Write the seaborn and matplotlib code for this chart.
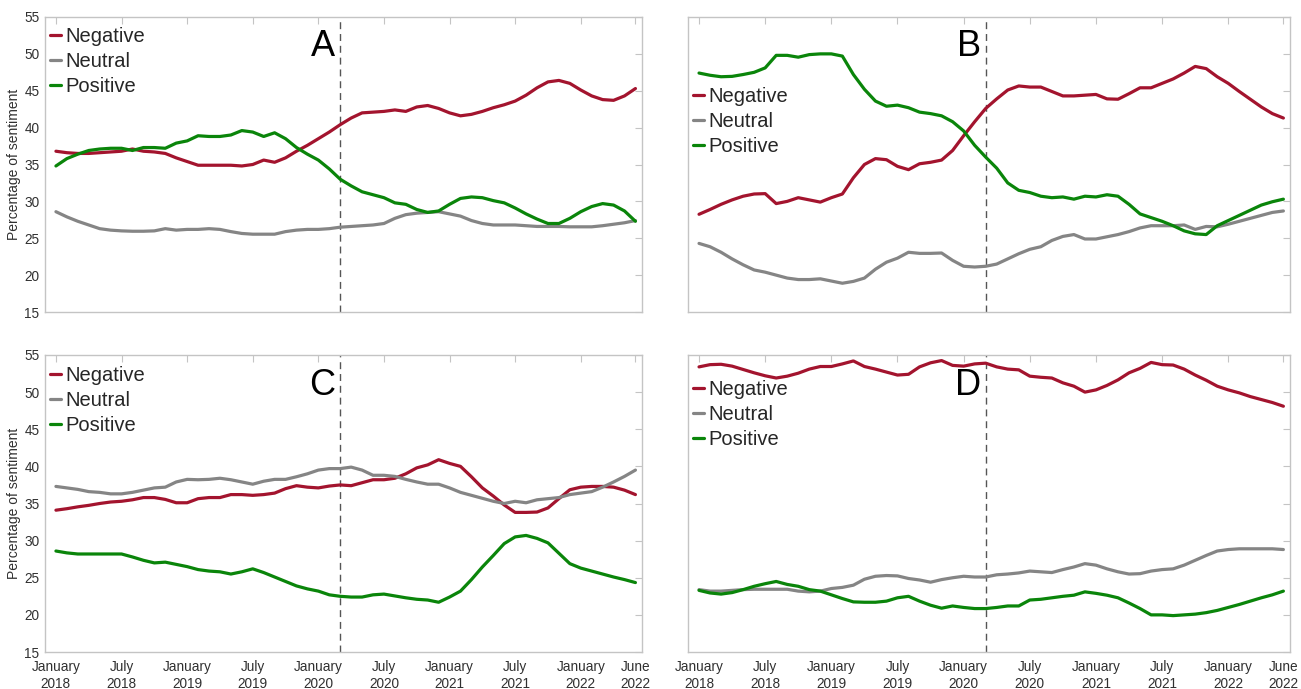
import numpy as np
import pandas as pd
import matplotlib
matplotlib.use("Agg")
import matplotlib.pyplot as plt
import seaborn as sns

# ---------------- data ----------------
months = pd.date_range("2018-01-01", "2022-06-01", freq="MS")
event_month = pd.Timestamp("2020-03-01")
sentiments = ["Negative", "Neutral", "Positive"]
panel_letters = ["A", "B", "C", "D"]
tick_labels = ["January\n2018", "July\n2018", "January\n2019", "July\n2019", "January\n2020",
               "July\n2020", "January\n2021", "July\n2021", "January\n2022", "June\n2022"]
tick_months = ["2018-01", "2018-07", "2019-01", "2019-07", "2020-01",
               "2020-07", "2021-01", "2021-07", "2022-01", "2022-06"]

a_negative = [36.8, 36.6, 36.5, 36.5, 36.6, 36.7, 36.8, 37.1, 36.8, 36.7,
              36.5, 35.9, 35.4, 34.9, 34.9, 34.9, 34.9, 34.8, 35.0, 35.6,
              35.3, 35.9, 36.8, 37.6, 38.5, 39.4, 40.4, 41.3, 42.0, 42.1,
              42.2, 42.4, 42.2, 42.8, 43.0, 42.6, 42.0, 41.6, 41.8, 42.2,
              42.7, 43.1, 43.6, 44.4, 45.4, 46.2, 46.4, 46.0, 45.1, 44.3,
              43.8, 43.7, 44.3, 45.3]
a_neutral = [28.6, 27.9, 27.3, 26.8, 26.3, 26.1, 26.0, 25.95, 25.95, 26.0,
             26.3, 26.1, 26.2, 26.2, 26.3, 26.2, 25.9, 25.65, 25.55, 25.55,
             25.55, 25.9, 26.1, 26.2, 26.2, 26.3, 26.5, 26.6, 26.7, 26.8,
             27.0, 27.7, 28.2, 28.4, 28.5, 28.6, 28.3, 28.0, 27.4, 27.0,
             26.8, 26.8, 26.8, 26.7, 26.6, 26.6, 26.6, 26.55, 26.55, 26.55,
             26.7, 26.9, 27.1, 27.4]
a_positive = [34.8, 35.8, 36.4, 36.9, 37.1, 37.2, 37.2, 36.9, 37.3, 37.3,
              37.2, 37.9, 38.2, 38.9, 38.8, 38.8, 39.0, 39.6, 39.4, 38.8,
              39.3, 38.5, 37.3, 36.4, 35.6, 34.4, 33.0, 32.1, 31.3, 30.9,
              30.5, 29.8, 29.6, 28.9, 28.5, 28.7, 29.6, 30.4, 30.6, 30.5,
              30.1, 29.8, 29.1, 28.3, 27.6, 27.0, 27.0, 27.7, 28.6, 29.3,
              29.7, 29.5, 28.7, 27.3]

b_negative = [28.25, 28.9, 29.6, 30.2, 30.7, 31.0, 31.05, 29.7, 30.0, 30.5,
              30.2, 29.9, 30.5, 31.0, 33.2, 35.0, 35.8, 35.65, 34.75, 34.3,
              35.1, 35.3, 35.6, 36.9, 38.9, 40.8, 42.6, 43.9, 45.1, 45.65,
              45.5, 45.5, 44.9, 44.3, 44.3, 44.4, 44.5, 43.9, 43.85, 44.6,
              45.4, 45.4, 46.0, 46.6, 47.4, 48.3, 48.0, 46.9, 46.0, 44.9,
              43.85, 42.8, 41.9, 41.3]
b_neutral = [24.3, 23.85, 23.1, 22.2, 21.4, 20.7, 20.4, 20.0, 19.6, 19.4,
             19.4, 19.5, 19.2, 18.9, 19.15, 19.6, 20.8, 21.75, 22.3, 23.1,
             22.95, 22.95, 23.0, 22.0, 21.2, 21.1, 21.2, 21.5, 22.2, 22.9,
             23.5, 23.85, 24.7, 25.25, 25.5, 24.9, 24.9, 25.2, 25.5, 25.9,
             26.4, 26.7, 26.7, 26.7, 26.8, 26.2, 26.6, 26.55, 26.9, 27.3,
             27.7, 28.1, 28.5, 28.7]
b_positive = [47.4, 47.1, 46.9, 46.95, 47.2, 47.5, 48.1, 49.8, 49.8, 49.55,
              49.9, 50.0, 50.0, 49.7, 47.2, 45.2, 43.6, 42.9, 43.05, 42.7,
              42.1, 41.9, 41.6, 40.8, 39.55, 37.6, 36.0, 34.5, 32.5, 31.5,
              31.2, 30.7, 30.5, 30.6, 30.3, 30.7, 30.6, 30.9, 30.7, 29.6,
              28.3, 27.8, 27.3, 26.7, 26.0, 25.6, 25.5, 26.7, 27.4, 28.1,
              28.8, 29.5, 29.95, 30.3]

c_negative = [34.1, 34.3, 34.55, 34.75, 35.0, 35.2, 35.3, 35.5, 35.8, 35.8,
              35.55, 35.1, 35.1, 35.65, 35.8, 35.8, 36.2, 36.2, 36.1, 36.2,
              36.4, 37.0, 37.4, 37.2, 37.1, 37.35, 37.5, 37.4, 37.8, 38.2,
              38.2, 38.4, 39.0, 39.8, 40.2, 40.9, 40.4, 40.0, 38.6, 37.1,
              36.0, 34.8, 33.8, 33.8, 33.85, 34.4, 35.65, 36.85, 37.2, 37.3,
              37.3, 37.2, 36.8, 36.2]
c_neutral = [37.3, 37.1, 36.9, 36.6, 36.5, 36.3, 36.3, 36.5, 36.8, 37.1,
             37.2, 37.9, 38.25, 38.2, 38.25, 38.4, 38.2, 37.9, 37.6, 38.0,
             38.25, 38.25, 38.6, 39.0, 39.5, 39.7, 39.7, 39.9, 39.5, 38.8,
             38.8, 38.65, 38.25, 37.9, 37.6, 37.6, 37.1, 36.5, 36.1, 35.7,
             35.3, 35.0, 35.3, 35.1, 35.5, 35.65, 35.8, 36.2, 36.4, 36.6,
             37.2, 37.9, 38.65, 39.5]
c_positive = [28.6, 28.35, 28.2, 28.2, 28.2, 28.2, 28.2, 27.8, 27.35, 27.0,
              27.1, 26.8, 26.5, 26.1, 25.9, 25.8, 25.5, 25.8, 26.2, 25.7,
              25.1, 24.5, 23.9, 23.5, 23.2, 22.7, 22.5, 22.4, 22.4, 22.7,
              22.8, 22.55, 22.3, 22.1, 22.0, 21.7, 22.4, 23.2, 24.75, 26.45,
              28.0, 29.6, 30.5, 30.7, 30.3, 29.7, 28.3, 26.9, 26.3, 25.9,
              25.5, 25.1, 24.75, 24.35]

d_negative = [53.4, 53.7, 53.75, 53.5, 53.05, 52.6, 52.2, 51.9, 52.15, 52.55,
              53.1, 53.45, 53.45, 53.8, 54.2, 53.45, 53.1, 52.7, 52.3, 52.4,
              53.4, 53.95, 54.25, 53.6, 53.5, 53.8, 53.9, 53.4, 53.1, 53.0,
              52.15, 52.0, 51.9, 51.25, 50.8, 50.0, 50.3, 50.9, 51.65, 52.6,
              53.2, 54.0, 53.7, 53.65, 53.1, 52.3, 51.6, 50.8, 50.3, 49.9,
              49.4, 49.0, 48.6, 48.1]
d_neutral = [23.4, 23.2, 23.2, 23.3, 23.4, 23.45, 23.45, 23.45, 23.45, 23.2,
             23.1, 23.2, 23.55, 23.7, 24.0, 24.8, 25.2, 25.3, 25.25, 24.9,
             24.7, 24.4, 24.75, 25.0, 25.2, 25.1, 25.1, 25.4, 25.5, 25.65,
             25.9, 25.8, 25.7, 26.1, 26.45, 26.9, 26.7, 26.2, 25.8, 25.5,
             25.55, 25.9, 26.1, 26.2, 26.7, 27.35, 28.0, 28.6, 28.8, 28.9,
             28.9, 28.9, 28.9, 28.8]
d_positive = [23.3, 22.95, 22.8, 23.0, 23.4, 23.85, 24.2, 24.5, 24.1, 23.85,
              23.4, 23.2, 22.7, 22.2, 21.75, 21.7, 21.7, 21.85, 22.3, 22.5,
              21.85, 21.3, 20.9, 21.2, 21.0, 20.85, 20.85, 21.0, 21.2, 21.2,
              22.0, 22.1, 22.3, 22.5, 22.65, 23.1, 22.9, 22.65, 22.3, 21.6,
              20.85, 20.0, 20.0, 19.9, 20.0, 20.1, 20.3, 20.6, 21.0, 21.4,
              21.85, 22.3, 22.7, 23.2]

panels = {
    "A": (a_negative, a_neutral, a_positive),
    "B": (b_negative, b_neutral, b_positive),
    "C": (c_negative, c_neutral, c_positive),
    "D": (d_negative, d_neutral, d_positive),
}

# ---------------- style ----------------
sns.set_style("white")
FONT = ["Liberation Sans", "DejaVu Sans"]
plt.rcParams["font.family"] = FONT
palette = {"Negative": "#A3142E", "Neutral": "#858585", "Positive": "#0A850A"}
frame_color = "#c4c4c4"
text_color = "#303030"

W, H = 1301, 689
fig = plt.figure(figsize=(W / 100, H / 100), dpi=100)

# axes rectangles in pixels: left, top, right, bottom
rects = {
    "A": (45, 17, 642, 312),
    "B": (688, 17, 1290, 312),
    "C": (45, 355, 642, 652),
    "D": (688, 355, 1290, 652),
}
# legend top offsets (pixels from axes top)
legend_top = {"A": 10, "B": 70, "C": 11, "D": 25}

x_index = np.arange(len(months))
month_pos = {m.strftime("%Y-%m"): i for i, m in enumerate(months)}
event_x = month_pos[event_month.strftime("%Y-%m")]
tick_pos = [month_pos[t] for t in tick_months]

for letter in panel_letters:
    l, t, r, b = rects[letter]
    ax = fig.add_axes([l / W, 1 - b / H, (r - l) / W, (b - t) / H])
    neg, neu, pos = panels[letter]
    df = pd.DataFrame({
        "month": np.concatenate([x_index] * 3),
        "value": np.concatenate([neg, neu, pos]),
        "sentiment": np.repeat(sentiments, len(months)),
    })
    sns.lineplot(data=df, x="month", y="value", hue="sentiment", hue_order=sentiments,
                 palette=palette, linewidth=2.3, ax=ax, legend=True)
    ax.axvline(event_x, color="#555555", linestyle=(0, (5, 3.5)), linewidth=1.0, zorder=1)

    ax.set_xlim(-1.0, 53.6)
    ax.set_ylim(15, 55)
    ax.set_yticks(np.arange(15, 56, 5))
    ax.set_xticks(tick_pos)
    ax.tick_params(axis="both", direction="in", length=5, width=0.8, color=frame_color,
                   top=True, right=True, labelsize=9.8, labelcolor=text_color)
    ax.tick_params(axis="x", pad=6)
    ax.tick_params(axis="y", pad=4)
    for s in ax.spines.values():
        s.set_color(frame_color)
        s.set_linewidth(1.0)

    if letter in ("C", "D"):
        ax.set_xticklabels(tick_labels, linespacing=1.2)
    else:
        ax.set_xticklabels([])
    if letter in ("A", "C"):
        ax.set_ylabel("Percentage of sentiment", fontsize=10, color=text_color, labelpad=2)
    else:
        ax.set_yticklabels([])
        ax.set_ylabel("")
    ax.set_xlabel("")

    handles, labels = ax.get_legend_handles_labels()
    ax.legend(handles, labels, loc="upper left",
              bbox_to_anchor=(5 / (r - l), 1 - legend_top[letter] / (b - t)),
              frameon=False, fontsize=14.5, handlelength=0.55, handletextpad=0.2,
              labelspacing=0.3, borderpad=0, borderaxespad=0)

    ax.text(event_x - 0.45, 1 - 30 / (b - t), letter,
            transform=ax.get_xaxis_transform(), ha="right", va="center",
            fontsize=26, color="black")

fig.savefig("out.png", dpi=100)
